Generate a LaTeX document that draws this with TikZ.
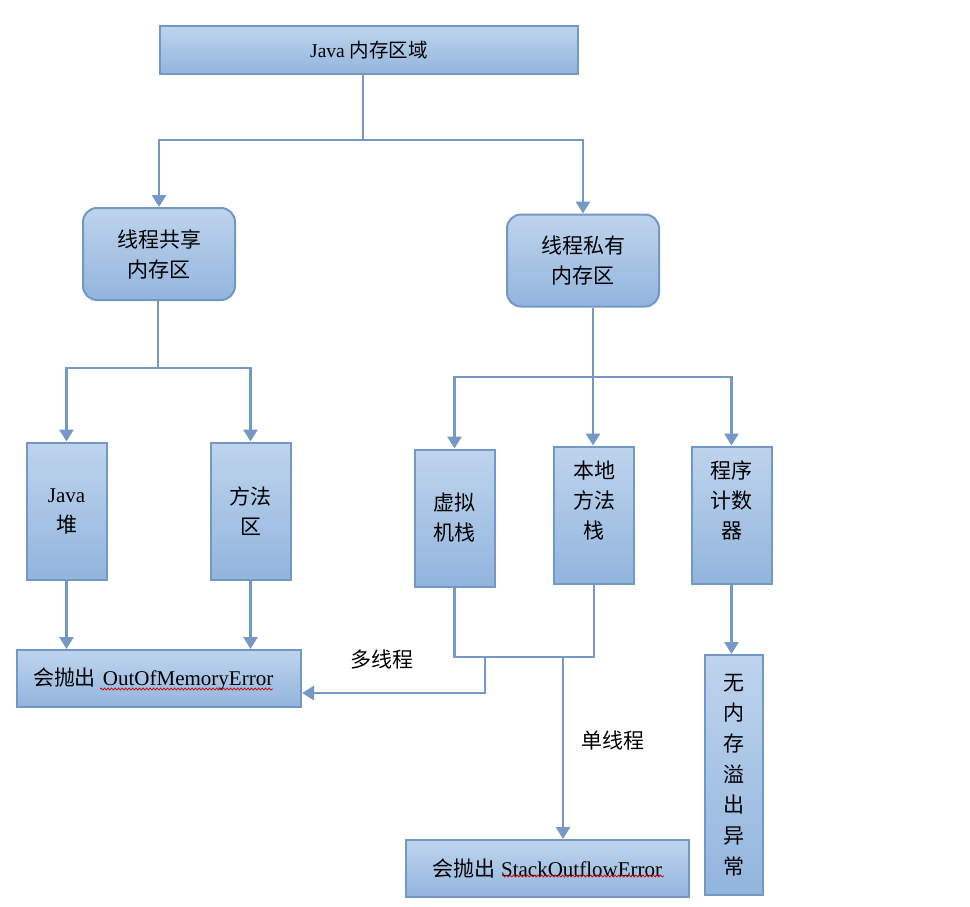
\documentclass[tikz,border=0pt]{standalone}
\usepackage{fontspec}
\setmainfont{Liberation Serif}
\newfontfamily\cjk{Noto Sans CJK SC}
\usetikzlibrary{arrows.meta,decorations.pathmorphing}
\definecolor{boxtop}{RGB}{190,212,237}
\definecolor{boxbot}{RGB}{146,181,221}
\definecolor{boxline}{RGB}{116,152,198}
\definecolor{wire}{RGB}{118,152,197}
\tikzset{
	box/.style={draw=boxline, line width=2pt, top color=boxtop, bottom color=boxbot, inner sep=0pt, align=center, font=\fontsize{21}{30}\selectfont},
	cjkbox/.style={box, font=\cjk\fontsize{21}{30}\selectfont},
	roundbox/.style={cjkbox, rounded corners=14pt, minimum width=152pt, minimum height=92pt},
	tallbox/.style={cjkbox, minimum width=80pt, minimum height=137pt},
	wire/.style={draw=wire, line width=2.8pt},
	arr/.style={wire, -{Triangle[width=14pt,length=12pt]}},
	squig/.style={red!80!black, line width=0.7pt, decorate, decoration={snake, amplitude=1pt, segment length=3.5pt}},
	lbl/.style={font=\cjk\fontsize{21}{24}\selectfont, inner sep=0pt}
}

\begin{document}
\begin{tikzpicture}[x=1pt, y=-1pt]
		%%%%% START %%%%%
		\useasboundingbox (0,0) rectangle (970,906);
		
		\node[box, minimum width=418pt, minimum height=48pt, font=\fontsize{19.5}{22}\selectfont] (mem) at (369,50) {Java {\cjk 内存区域}};
		
		\node[roundbox] (shared) at (159,254) {线程共享\\内存区};
		\node[roundbox] (private) at (583,260.5) {线程私有\\内存区};
		
		\node[tallbox, font=\fontsize{21}{30}\selectfont] (heap) at (66.5,511) {Java\\{\cjk 堆}};
		\node[tallbox] (method) at (250.5,511) {方法\\区};
		\node[tallbox] (vmstack) at (454.5,518) {虚拟\\机栈};
		\node[tallbox] (native) at (594,515) {本地\\方法\\栈\\\mbox{}};
		\node[tallbox] (pc) at (731.5,515) {程序\\计数\\器\\\mbox{}};
		
		\node[box, minimum width=284pt, minimum height=57pt, text width=252pt, align=left] (oom) at (159,678.5) {{\cjk 会抛出} OutOfMemoryError};
		\node[box, minimum width=283pt, minimum height=57pt] (soe) at (547.5,868.5) {{\cjk 会抛出} StackOutflowError};
		\node[cjkbox, minimum width=58pt, minimum height=240pt, font=\cjk\fontsize{21}{30.7}\selectfont] (nooom) at (734,775) {无\\内\\存\\溢\\出\\异\\常};
		
		\node[lbl] (multi) at (382,660) {多线程};
		\node[lbl] (single) at (613,740) {单线程};
		
		% top split
		\coordinate (fork) at (363,140);
		\draw[wire] (mem.south -| fork) -- (fork);
		\draw[arr] (fork) -| (shared.north);
		\draw[arr] (fork) -| (private.north);
		
		% shared area
		\coordinate (sharedfork) at (158,368);
		\draw[wire] (shared.south -| sharedfork) -- (sharedfork);
		\draw[arr] (sharedfork) -| (heap.north);
		\draw[arr] (sharedfork) -| (method.north);
		\draw[arr] (heap.south) -- (heap.south |- oom.north);
		\draw[arr] (method.south) -- (method.south |- oom.north);
		
		% private area
		\coordinate (privfork) at (593,377);
		\draw[arr] (private.south -| privfork) -- (native.north -| privfork);
		\draw[arr] (privfork) -| (vmstack.north);
		\draw[arr] (privfork) -| (pc.north);
		
		\coordinate (merge) at (485,657);
		\coordinate (split) at (563,657);
		\draw[wire] (vmstack.south) |- (native.south |- merge) -- (native.south);
		\draw[arr] (merge) |- ([yshift=-14.5pt]oom.east);
		\draw[arr] (split) -- (split |- soe.north);
		\draw[arr] (pc.south) -- (pc.south |- nooom.north);
		
		\draw[squig] ([shift={(84,-19)}]oom.south west) -- ([shift={(-29,-19)}]oom.south east);
		\draw[squig] ([shift={(97,-22)}]soe.south west) -- ([shift={(-26,-22)}]soe.south east);
		
		%%%%% END %%%%%
\end{tikzpicture}
\end{document}
